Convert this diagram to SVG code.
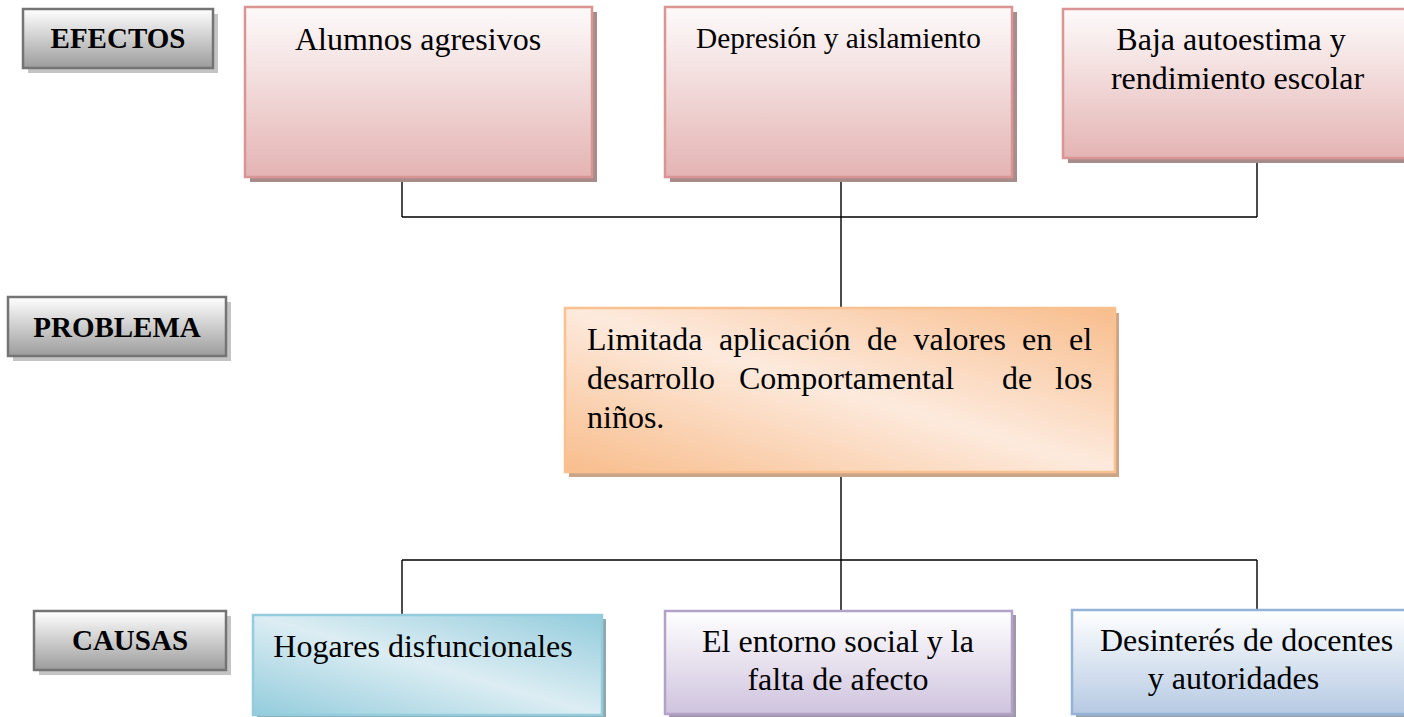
<svg xmlns="http://www.w3.org/2000/svg" width="1404" height="717" viewBox="0 0 1404 717">
<defs>
<linearGradient id="gGray" x1="0" y1="0" x2="0" y2="1"><stop offset="0" stop-color="#ffffff"/><stop offset="1" stop-color="#9c9c9c"/></linearGradient>
<linearGradient id="gPink" x1="0" y1="0" x2="0" y2="1"><stop offset="0" stop-color="#fdfafa"/><stop offset="0.3" stop-color="#f6e6e6"/><stop offset="1" stop-color="#e4b4b3"/></linearGradient>
<linearGradient id="gOrange" x1="0" y1="1" x2="1" y2="0"><stop offset="0" stop-color="#f8bd8c"/><stop offset="0.5" stop-color="#fdeadd"/><stop offset="1" stop-color="#f8bd8c"/></linearGradient>
<linearGradient id="gTeal" x1="0" y1="1" x2="1" y2="0"><stop offset="0" stop-color="#93ccdc"/><stop offset="0.5" stop-color="#dcedf3"/><stop offset="1" stop-color="#93ccdc"/></linearGradient>
<linearGradient id="gPurple" x1="0" y1="0" x2="0" y2="1"><stop offset="0" stop-color="#ffffff"/><stop offset="1" stop-color="#cfc3de"/></linearGradient>
<linearGradient id="gBlue" x1="0" y1="0" x2="0" y2="1"><stop offset="0" stop-color="#ffffff"/><stop offset="1" stop-color="#b6cae3"/></linearGradient>
</defs>
<style>
text{font-family:"Liberation Serif","Times New Roman",serif;fill:#000}
.lab{font-size:29px;font-weight:bold;text-anchor:middle}
.t{font-size:32px;text-anchor:middle}
.t29{font-size:29.3px;text-anchor:middle}
.tp{font-size:32px}
.gray{fill:url(#gGray);stroke:#747474;stroke-width:2.5}
.grayS{fill:#c4c4c4}
.pink{fill:url(#gPink);stroke:#d99594;stroke-width:2.5}
.pinkS{fill:#a88c8c}
.orange{fill:url(#gOrange);stroke:#f9c090;stroke-width:2.5}
.orangeS{fill:#caa587}
.teal{fill:url(#gTeal);stroke:#93cddd;stroke-width:2.5}
.tealS{fill:#8fa7ae}
.purple{fill:url(#gPurple);stroke:#b2a2c7;stroke-width:2.5}
.purpleS{fill:#9f97aa}
.blue{fill:url(#gBlue);stroke:#95b3d7;stroke-width:2.5}
.blueS{fill:#98a4b3}
.conn{stroke:#000;stroke-width:1.4;fill:none}
</style>
<g id="connectors">
<path class="conn" d="M402 178 V217 M841 178 V217 M1257 159 V217 M402 217 H1257 M841 217 V308"/>
<path class="conn" d="M841 473 V560 M402 560 H1257 M402 560 V614 M841 560 V610 M1257 560 V609"/>
</g>
<g id="label-efectos">
<rect class="grayS" x="28" y="14" width="190" height="59"/>
<rect class="gray" x="23" y="9" width="190" height="59"/>
<text class="lab" x="118" y="48">EFECTOS</text>
</g>
<g id="label-problema">
<rect class="grayS" x="13" y="302" width="218" height="59"/>
<rect class="gray" x="8" y="297" width="218" height="59"/>
<text class="lab" x="117" y="337">PROBLEMA</text>
</g>
<g id="label-causas">
<rect class="grayS" x="39" y="616" width="192" height="59"/>
<rect class="gray" x="34" y="611" width="192" height="59"/>
<text class="lab" x="130" y="650">CAUSAS</text>
</g>
<g id="efecto-alumnos">
<rect class="pinkS" x="250" y="12" width="347" height="170"/>
<rect class="pink" x="245" y="7" width="347" height="170"/>
<text class="t" x="418" y="50">Alumnos agresivos</text>
</g>
<g id="efecto-depresion">
<rect class="pinkS" x="670" y="12" width="347" height="170"/>
<rect class="pink" x="665" y="7" width="347" height="170"/>
<text class="t29" x="838.5" y="48">Depresión y aislamiento</text>
</g>
<g id="efecto-baja">
<rect class="pinkS" x="1068" y="14" width="350" height="149"/>
<rect class="pink" x="1063" y="9" width="350" height="149"/>
<text class="t" x="1231" y="50">Baja autoestima y</text>
<text class="t" x="1237.5" y="89">rendimiento escolar</text>
</g>
<g id="problema">
<rect class="orangeS" x="569" y="313" width="550" height="164"/>
<rect class="orange" x="565" y="308" width="550" height="164"/>
<text class="tp" y="350"><tspan x="587">Limitada</tspan><tspan x="719">aplicación</tspan><tspan x="867">de</tspan><tspan x="913.5">valores</tspan><tspan x="1022">en</tspan><tspan x="1069">el</tspan></text>
<text class="tp" y="389"><tspan x="587">desarrollo</tspan><tspan x="739">Comportamental</tspan><tspan x="1002">de</tspan><tspan x="1055">los</tspan></text>
<text class="tp" x="587" y="428">niños.</text>
</g>
<g id="causa-hogares">
<rect class="tealS" x="257" y="619" width="349" height="100"/>
<rect class="teal" x="253" y="615" width="349" height="100"/>
<text class="t" x="423" y="657">Hogares disfuncionales</text>
</g>
<g id="causa-entorno">
<rect class="purpleS" x="669" y="615" width="347" height="103"/>
<rect class="purple" x="665" y="611" width="347" height="103"/>
<text class="t" x="838" y="652">El entorno social y la</text>
<text class="t" x="838" y="690">falta de afecto</text>
</g>
<g id="causa-desinteres">
<rect class="blueS" x="1076" y="614" width="340" height="104"/>
<rect class="blue" x="1072" y="610" width="340" height="104"/>
<text class="t" x="1246.5" y="651">Desinterés de docentes</text>
<text class="t" x="1233.5" y="689">y autoridades</text>
</g>
</svg>
